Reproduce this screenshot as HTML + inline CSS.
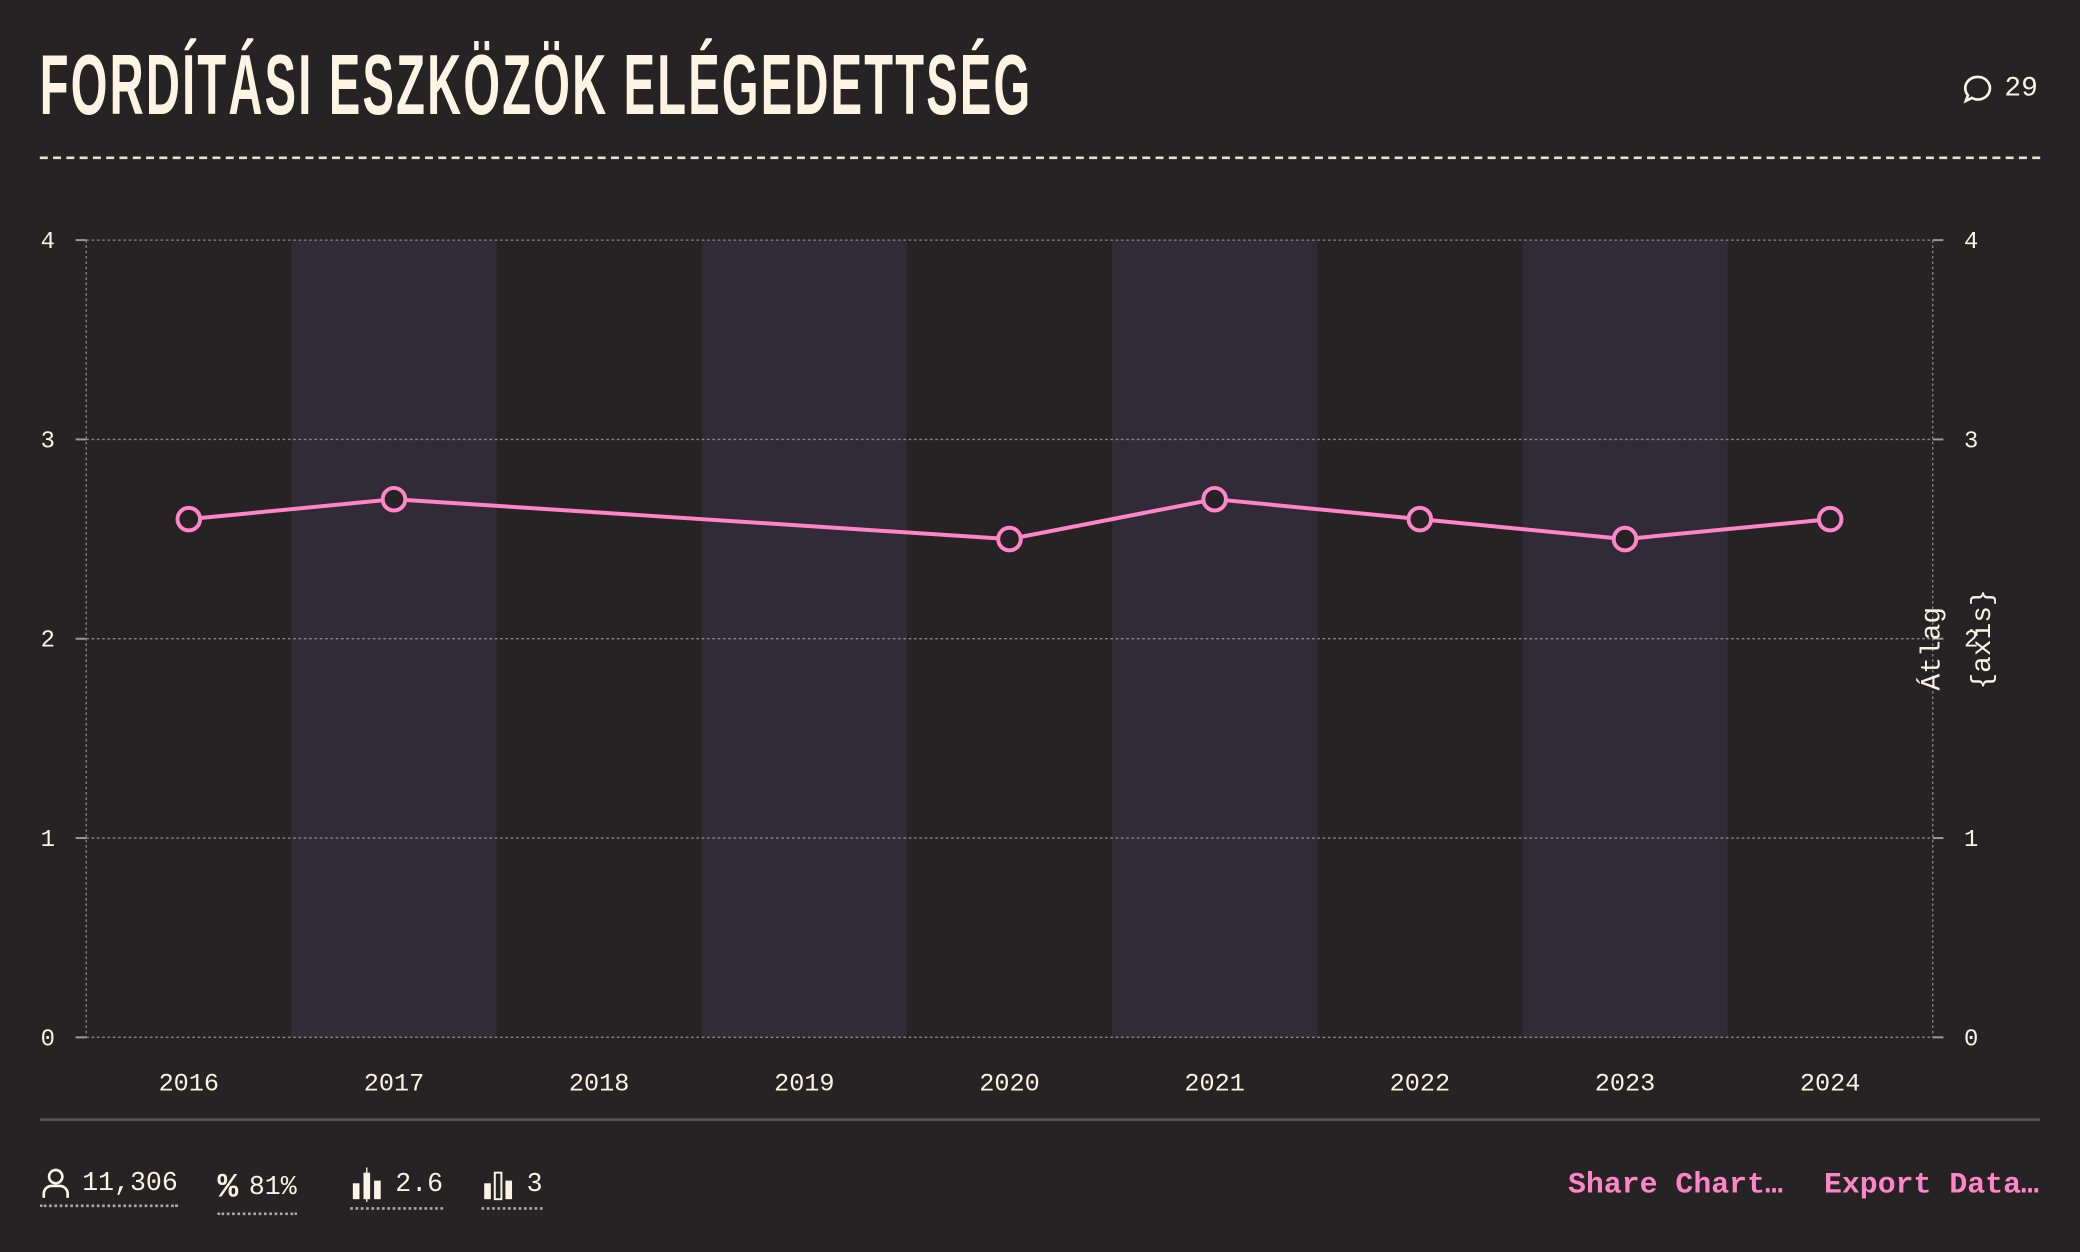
<!DOCTYPE html>
<html><head><meta charset="utf-8"><style>
html,body{margin:0;padding:0;background:#262324;width:2080px;height:1252px;overflow:hidden}
#wrap{position:absolute;left:0;top:0;width:1568px;height:944px;transform:scale(1.32653);transform-origin:0 0;font-family:"Liberation Mono",monospace;color:#fbf3e4}
.title{position:absolute;left:30px;top:29px;font-family:"Liberation Sans Narrow","Liberation Sans",sans-serif;font-weight:bold;font-size:64px;line-height:70px;transform:scaleX(0.555);transform-origin:0 0;white-space:nowrap;letter-spacing:3px;color:#fdf4e3}
.stat{position:absolute;top:880px;font-size:20px;display:flex;align-items:center;gap:8px;border-bottom:2px dotted #aaa;padding-bottom:4px}
.act{position:absolute;top:880px;font-size:22.5px;font-weight:bold;color:#ff85c8}
</style></head><body>
<div id="wrap">
<div class="title">FORDÍTÁSI ESZKÖZÖK ELÉGEDETTSÉG</div>
<div style="position:absolute;left:1479px;top:55px;font-size:21px;display:flex;align-items:center;gap:8px">
<svg width="24" height="24" viewBox="0 0 24 24"><path d="M12 3a9 8.5 0 1 1-4.5 15.8L3 21l1.5-4.2A9 8.5 0 0 1 12 3z" fill="none" stroke="#fbf3e4" stroke-width="2"/></svg><span>29</span></div>
<div style="position:absolute;left:30px;top:118px;width:1508px;border-top:2px dashed #e8e0d0"></div>
<svg id="chart" width="1568" height="944" style="position:absolute;left:0;top:0"></svg>
<div style="position:absolute;left:30px;top:843px;width:1508px;height:2px;background:#555"></div>
<div class="stat" style="left:30px"><svg width="24" height="24" viewBox="0 0 24 24"><circle cx="12" cy="7" r="5" fill="none" stroke="#fbf3e4" stroke-width="2"/><path d="M3 23v-3a6 6 0 0 1 6-6h6a6 6 0 0 1 6 6v3" fill="none" stroke="#fbf3e4" stroke-width="2"/></svg>11,306</div>
<div class="stat" style="left:164px"><span style="font-size:26px;font-weight:bold">%</span>81%</div>
<div class="stat" style="left:264px"><svg width="26" height="26" viewBox="0 0 26 26"><rect x="2" y="12" width="5" height="12" fill="#fbf3e4"/><rect x="10" y="4" width="5" height="20" fill="#fbf3e4"/><rect x="18" y="10" width="5" height="14" fill="#fbf3e4"/><line x1="12.5" y1="0" x2="12.5" y2="26" stroke="#fbf3e4"/></svg>2.6</div>
<div class="stat" style="left:363px"><svg width="26" height="26" viewBox="0 0 26 26"><rect x="2" y="12" width="5" height="12" fill="#fbf3e4"/><rect x="10" y="4" width="5" height="20" fill="none" stroke="#fbf3e4" stroke-width="1.5"/><rect x="18" y="10" width="5" height="14" fill="#fbf3e4"/></svg>3</div>
<div class="act" style="left:1182px">Share Chart…</div>
<div class="act" style="left:1375px">Export Data…</div>
</div>
<script>
const categories=["2016","2017","2018","2019","2020","2021","2022","2023","2024"];
const values=[2.6,2.7,null,null,2.5,2.7,2.6,2.5,2.6];
const yTicks=[0,1,2,3,4];
const NS="http://www.w3.org/2000/svg";
const svg=document.getElementById('chart');
const L=65,R=1457,T=181,B=782,yMax=4;
const bw=(R-L)/categories.length;
const x=i=>L+bw*(i+0.5);
const y=v=>B-(v/yMax)*(B-T);
function mk(t,a){const e=document.createElementNS(NS,t);for(const k in a)e.setAttribute(k,a[k]);svg.appendChild(e);return e;}
categories.forEach((c,i)=>{
 if(i%2===1){const r=mk('rect',{x:L+bw*i,y:T,width:bw,height:B-T,fill:'#302b36'});
 
 }
});
yTicks.forEach(t=>{
 const g=mk('line',{x1:L,x2:R,y1:y(t),y2:y(t),stroke:'#8a8585','stroke-dasharray':'2 2','stroke-width':1});
 
 
 mk('line',{x1:L-8,x2:L,y1:y(t),y2:y(t),stroke:'#999','stroke-width':1.5});
 mk('line',{x1:R,x2:R+8,y1:y(t),y2:y(t),stroke:'#999','stroke-width':1.5});
 const a=mk('text',{x:36,y:y(t)+6,fill:'#fbf3e4','font-size':18,'text-anchor':'middle','font-family':'Liberation Mono, monospace'});a.textContent=t;
 
 
 const b=mk('text',{x:1486,y:y(t)+6,fill:'#fbf3e4','font-size':18,'text-anchor':'middle','font-family':'Liberation Mono, monospace'});b.textContent=t;
 
 
});
mk('line',{x1:L,x2:L,y1:T,y2:B,stroke:'#8a8585','stroke-dasharray':'2 2'});
mk('line',{x1:R,x2:R,y1:T,y2:B,stroke:'#8a8585','stroke-dasharray':'2 2'});
categories.forEach((c,i)=>{
 const t=mk('text',{x:x(i),y:822,fill:'#fbf3e4','font-size':19,'text-anchor':'middle','font-family':'Liberation Mono, monospace'});t.textContent=c;
 
 
});
const pts=values.map((v,i)=>v==null?null:[x(i),y(v)]).filter(p=>p);
const pl=mk('polyline',{points:pts.map(p=>p.join(',')).join(' '),fill:'none',stroke:'#ff85c8','stroke-width':3});


values.forEach((v,i)=>{if(v==null)return;
 const c=mk('circle',{cx:x(i),cy:y(v),r:8.5,fill:'#262324',stroke:'#ff85c8','stroke-width':3});
 
 
});
[['Átlag',1462,489],['{axis}',1500,482]].forEach(([s,px,py])=>{
 const t=mk('text',{x:px,y:py,fill:'#fbf3e4','font-size':21,'text-anchor':'middle','font-family':'Liberation Mono, monospace',transform:`rotate(-90 ${px} ${py})`});t.textContent=s;
 
 
});
</script>
</body></html>
